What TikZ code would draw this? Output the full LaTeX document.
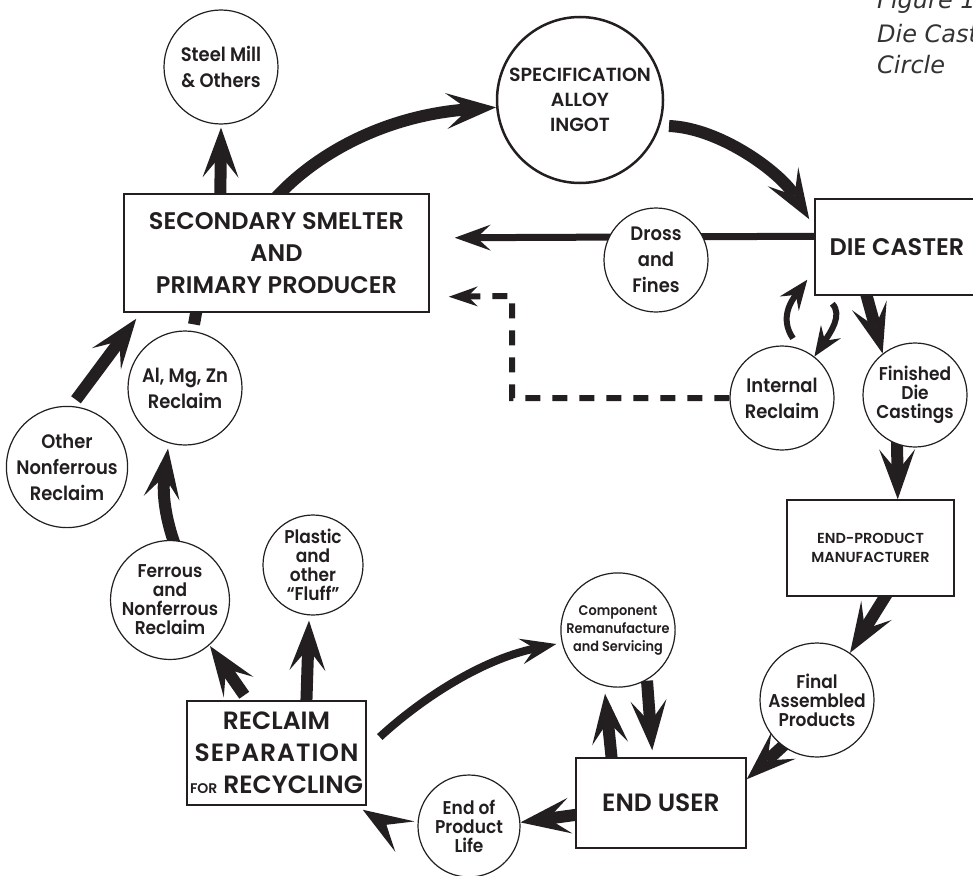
\documentclass[tikz,border=0pt]{standalone}
\usepackage{fontspec}
\newfontfamily\fut{Poppins}[UprightFont=* SemiBold, FakeStretch=0.92]
\newfontfamily\futw{Poppins}[UprightFont=* SemiBold, FakeStretch=1.0]
\newfontfamily\futsp{Poppins}[UprightFont=* SemiBold, FakeStretch=1.0, LetterSpace=4]
\newfontfamily\ttl{DejaVu Sans}[UprightFont=* Oblique]
\usetikzlibrary{arrows.meta,calc}
\pgfdeclarelayer{bg}
\pgfsetlayers{bg,main}
\definecolor{ink}{HTML}{231F20}
\definecolor{ttlgray}{HTML}{333333}
\tikzset{
  HeadL/.tip={Stealth[length=50pt,width=36pt,inset=22pt,line width=0pt]},
  HeadLk/.tip={Stealth[length=50pt,width=36pt,inset=22pt,line width=0pt,color=ink]},
  HeadM/.tip={Stealth[length=36pt,width=26pt,inset=14pt,line width=0pt]},
  HeadT/.tip={Stealth[length=30pt,width=24pt,inset=11pt,line width=0pt]},
  HeadS/.tip={Stealth[length=29pt,width=20pt,inset=10pt,line width=0pt]},
  circ/.style={circle,draw=ink,fill=white,line width=1.2pt,inner sep=0pt,minimum size=#1,align=center,text=ink},
  boxn/.style={draw=ink,fill=white,line width=1.5pt,inner sep=0pt,align=center,text=ink},
  txtmid/.style={font=\fut\fontsize{19.5}{26}\selectfont},
  txttight/.style={font=\fut\fontsize{18.5}{19}\selectfont},
  fat/.style={draw=ink,line width=12pt,-{HeadL}},
  fathead/.style={draw=white,line width=0.5pt,-{HeadLk}},
  ttlstyle/.style={anchor=base west,inner sep=0pt,text=ttlgray,font=\ttl\fontsize{24}{31}\selectfont}
}
\begin{document}
\begin{tikzpicture}[x=1pt,y=-1pt]
\useasboundingbox (0,0) rectangle (973,875);

% boxes
\node[boxn,font=\futw\fontsize{24}{32}\selectfont,minimum width=305pt,minimum height=118pt] (smelter) at (276.5,253) {SECONDARY SMELTER\\AND\\PRIMARY PRODUCER};
\node[boxn,font=\futw\fontsize{24}{32}\selectfont,minimum width=164pt,minimum height=96pt] (diecaster) at (897,247) {DIE CASTER};
\node[boxn,font=\futw\fontsize{14.5}{19}\selectfont,minimum width=167pt,minimum height=96pt] (epm) at (870.5,548) {END-PRODUCT\\MANUFACTURER};
\node[boxn,font=\futw\fontsize{25}{32}\selectfont,minimum width=170pt,minimum height=90pt] (enduser) at (661,803) {END USER};
\node[boxn,font=\futw\fontsize{25}{32}\selectfont,minimum width=179pt,minimum height=104pt] (reclaim) at (276.5,753) {RECLAIM\\{\futsp SEPARATION}\\{\fontsize{14}{32}\selectfont FOR} RECYCLING};

% circles
\node[circ=114pt,txtmid] (steel) at (221,67) {Steel Mill\\\& Others};
\node[circ=166pt,line width=2.5pt,font=\futw\fontsize{19}{25}\selectfont] (ingot) at (580,100) {SPECIFICATION\\ALLOY\\INGOT};
\node[circ=104pt,txtmid] (dross) at (656,260) {Dross\\and\\Fines};
\node[circ=104pt,txtmid] (intr) at (782,398) {Internal\\Reclaim};
\node[circ=104pt,txttight] (fin) at (915,395) {Finished\\Die\\Castings};
\node[circ=114pt,txttight] (final) at (817,700) {Final\\Assembled\\Products};
\node[circ=114pt,font=\fut\fontsize{14}{18}\selectfont] (comp) at (618,630) {Component\\Remanufacture\\and Servicing};
\node[circ=102pt,txttight] (eol) at (469,826) {End of\\Product\\Life};
\node[circ=100pt,txttight] (plastic) at (313,565) {Plastic\\and\\other\\“Fluff”};
\node[circ=114pt,txttight] (ferrous) at (170,600) {Ferrous\\and\\Nonferrous\\Reclaim};
\node[circ=114pt,txtmid] (other) at (67,467) {Other\\Nonferrous\\Reclaim};
\node[circ=114pt,txtmid] (almg) at (185,388) {Al, Mg, Zn\\Reclaim};

% title
\node[ttlstyle] (t1) at (877,9) {Figure 1};
\node[ttlstyle] (t2) at (877,42) {Die Cast};
\node[ttlstyle] (t3) at (877,73) {Circle};

\begin{pgfonlayer}{bg}
% smelter -> steel mill
\draw[fat] ($(smelter.north west)+(97,10)$) -- ($(steel.south)+(0,3)$);
% smelter -> ingot
\draw[fat] ($(smelter.north west)+(153,4)$) .. controls (320,150) and (390,115) .. (ingot.185);
% ingot -> die caster
\draw[fat] ($(ingot.center)+(89,26)$) .. controls (720,128) and (780,172) .. ($(diecaster.north west)+(-5,21)$);
% die caster -> smelter (dross)
\draw[draw=ink,line width=7pt,-{HeadM}] ($(diecaster.north west)+(2,38)$) -- ($(smelter.south east)+(25,-75)$);
% internal reclaim -> smelter (dashed)
\draw[draw=ink,line width=6pt,dash pattern=on 15pt off 12pt,line join=miter,-{HeadS}] (intr.west) -- (512,398) -- (512,296) -- ($(smelter.south east)+(19,-16)$);
% internal reclaim -> die caster
\draw[draw=ink,line width=6pt,-{HeadT}] ($(intr.north)+(11,-7)$) .. controls (779,318) and (792,300) .. ($(diecaster.south west)+(-7,-16)$);
% die caster -> internal reclaim
\draw[draw=ink,line width=6pt,-{HeadT}] ($(diecaster.south west)+(18,8)$) .. controls (843,315) and (830,333) .. (intr.52);
% die caster -> finished
\draw[fat] ($(diecaster.south west)+(51,-5)$) -- (fin.128);
% finished -> end-product manufacturer
\draw[fat] ($(fin.south)+(-18,-10)$) -- ($(epm.north east)+(-57,0)$);
% end-product manufacturer -> final
\draw[fat] ($(epm.south east)+(-66,-6)$) -- (final.55);
% final -> end user
\draw[fat] ($(final.center)+(-22,35)$) -- ($(enduser.north east)+(0,22)$);
% end user -> component
\draw[fat] ($(enduser.north west)+(37,7)$) -- ($(comp.south)+(-13,6)$);
% component -> end user
\draw[fat] ($(comp.south)+(29,-7)$) -- ($(enduser.north west)+(77,-7)$);
% end user -> end of life
\draw[fat] ($(enduser.west)+(14,10)$) -- (eol.4);
% end of life -> reclaim
\draw[fathead] ($(eol.center)+(-65,10)$) -- ($(reclaim.south east)+(-4,4)$);
% reclaim -> component
\draw[draw=ink,line width=8pt,-{HeadM}] ($(reclaim.east)+(13,-16)$) .. controls (420,700) and (480,660) .. ($(comp.west)+(-4,14)$);
% reclaim -> plastic
\draw[fat] ($(reclaim.north west)+(120,6)$) -- ($(plastic.south)+(-4,5)$);
% reclaim -> ferrous
\draw[fat] ($(reclaim.north west)+(58,-5)$) -- ($(ferrous.center)+(40,46)$);
% ferrous -> al mg zn
\draw[fat] ($(ferrous.north)+(5,5)$) .. controls (166,520) and (162,495) .. ($(almg.south)+(-17,3)$);
% other nonferrous -> smelter
\draw[fat] ($(other.north)+(9,-6)$) -- ($(smelter.south west)+(13,6)$);
% al mg zn -> smelter
\draw[draw=ink,line width=12pt] ($(almg.north)+(9,-6)$) -- ($(smelter.south west)+(75,-12)$);
\end{pgfonlayer}
\end{tikzpicture}
\end{document}
